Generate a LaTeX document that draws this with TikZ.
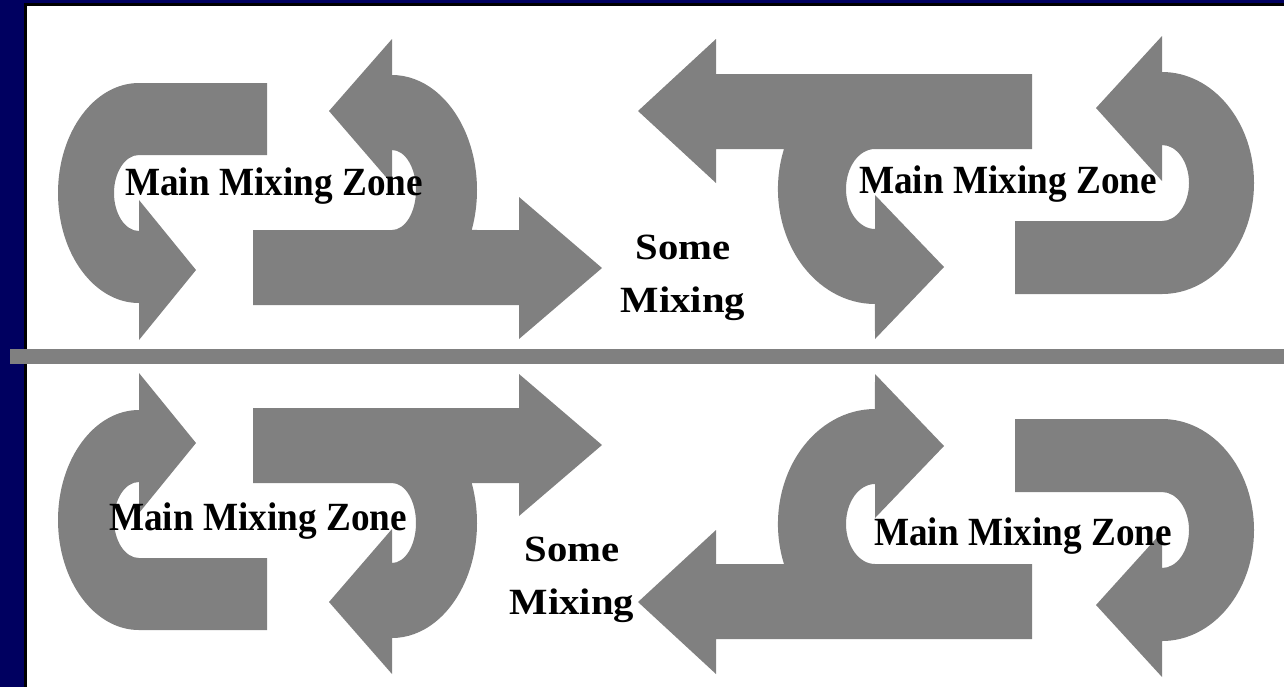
\documentclass[tikz,border=0pt]{standalone}
\usepackage{fontspec}
\setmainfont{Liberation Serif}
\newfontfamily\zonefont[FakeStretch=0.93]{Liberation Serif}
\newfontfamily\somefont[FakeStretch=1.1]{Liberation Serif}
\definecolor{slidenavy}{RGB}{0,0,96}
\definecolor{flowgrey}{RGB}{128,128,128}

% the four flow arrows of one half (image pixels, y downwards)
\newcommand{\flowhalf}{%
  \fill[flow] (267,83) -- (139,83) arc[start angle=270, end angle=90, x radius=81, y radius=110]
    -- (139,340) -- (196,270) -- (139,200) -- (139,231)
    arc[start angle=90, end angle=270, x radius=25, y radius=38] -- (267,155) -- cycle;
  \fill[flow] (253,230) -- (392,230) arc[start angle=90, end angle=-90, x radius=24, y radius=40]
    -- (392,184) -- (329,111) -- (392,39) -- (392,75)
    arc[start angle=-90, end angle=20.35, x radius=85, y radius=115]
    -- (519,230) -- (519,197) -- (602,268) -- (519,339) -- (519,305) -- (253,305) -- cycle;
  \fill[flow] (1032,74) -- (716,74) -- (716,39) -- (638,111) -- (716,183) -- (716,149) -- (784,149)
    arc[start angle=200.35, end angle=90, x radius=97, y radius=115]
    -- (875,339) -- (944,267) -- (875,195) -- (875,229)
    arc[start angle=90, end angle=270, x radius=29, y radius=40] -- (1032,149) -- cycle;
  \fill[flow] (1015,221) -- (1162,221) arc[start angle=90, end angle=-90, x radius=27, y radius=38]
    -- (1162,181) -- (1096,108) -- (1162,36) -- (1162,72)
    arc[start angle=-90, end angle=90, x radius=92, y radius=111] -- (1015,294) -- cycle;
}

\begin{document}
\begin{tikzpicture}[x=0.5pt,y=-0.5pt,
    flow/.style={fill=flowgrey},
    zone/.style={anchor=base,inner sep=0pt,font=\zonefont\bfseries\fontsize{20pt}{24pt}\selectfont},
    some/.style={anchor=base,inner sep=0pt,align=center,font=\somefont\bfseries\fontsize{18.5pt}{26.5pt}\selectfont}]
  \useasboundingbox (0,0) rectangle (1284,687);
  % slide frame
  \fill[slidenavy] (0,0) rectangle (1284,687);
  \fill[black] (24,3) rectangle (1284,687);
  \fill[white] (27,6) rectangle (1284,687);
  % upper and lower flows
  \flowhalf
  \begin{scope}[shift={(0,713)},yscale=-1]
    \flowhalf
  \end{scope}
  \fill[flowgrey] (10,349) rectangle (1284,364);
  % texts
  \node[zone] (zoneul) at (274,195) {Main Mixing Zone};
  \node[zone] (zoneur) at (1008,193) {Main Mixing Zone};
  \node[zone] (zonell) at (258,530) {Main Mixing Zone};
  \node[zone] (zonelr) at (1023,545) {Main Mixing Zone};
  \node[some] (someup) at (683,312) {Some\\Mixing};
  \node[some] (somelow) at (572,614) {Some\\Mixing};
\end{tikzpicture}
\end{document}
